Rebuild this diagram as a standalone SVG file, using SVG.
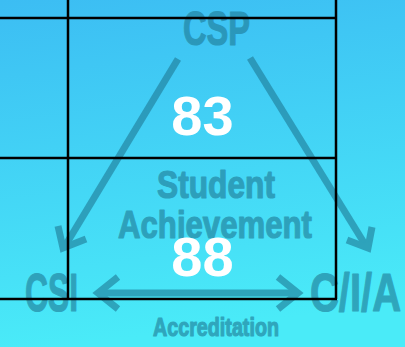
<svg xmlns="http://www.w3.org/2000/svg" width="405" height="347" viewBox="0 0 405 347">
<defs>
<linearGradient id="bg" x1="0" y1="0" x2="0.15" y2="1">
<stop offset="0" stop-color="#3cbdf3"/>
<stop offset="1" stop-color="#4aebf8"/>
</linearGradient>
<style>
.lbls{opacity:0.62}
.lbl{font-family:"Liberation Sans Narrow","Liberation Sans",sans-serif;font-weight:bold;fill:#1f7c98;stroke:#1f7c98;stroke-width:1.2;stroke-linejoin:round}
.num{font-family:"Liberation Sans",Arial,sans-serif;font-weight:bold;font-size:56px;fill:#ffffff;text-anchor:middle}
.arr{fill:none;stroke:#1f7c98;stroke-width:7}
.grid{stroke:#000;stroke-width:2.5;fill:none}
</style>
</defs>
<rect width="405" height="347" fill="url(#bg)"/>
<g id="connectors" opacity="0.62">
<g class="arr">
<line x1="178" y1="59" x2="65" y2="246"/>
<polyline points="58,226 63,248 86,239"/>
<line x1="250" y1="58" x2="366" y2="246"/>
<polyline points="347,240 368,248 372,227"/>
<line x1="100" y1="293" x2="297" y2="293"/>
<polyline points="118,277 98,293 118,309"/>
<polyline points="278,277 298,293 278,309"/>
</g>
</g>
<g class="lbls">
<g id="node-csp"><text class="lbl" x="183" y="45" font-size="48" textLength="67" lengthAdjust="spacingAndGlyphs">CSP</text></g>
<g id="node-student"><text class="lbl" x="157" y="198" font-size="38" textLength="118" lengthAdjust="spacingAndGlyphs">Student</text>
<text class="lbl" x="118" y="238" font-size="38" textLength="194" lengthAdjust="spacingAndGlyphs">Achievement</text></g>
<g id="node-csi"><text class="lbl" x="25" y="311" font-size="54" textLength="53" lengthAdjust="spacingAndGlyphs">CSI</text></g>
<g id="node-cia"><text class="lbl" x="310" y="311" font-size="54" textLength="91" lengthAdjust="spacingAndGlyphs">C/I/A</text></g>
<g id="node-accreditation"><text class="lbl" x="153" y="336" font-size="26" textLength="126" lengthAdjust="spacingAndGlyphs">Accreditation</text></g>
</g>
<g id="grid">
<line class="grid" x1="0" y1="18" x2="337" y2="18"/>
<line class="grid" x1="0" y1="158" x2="337" y2="158"/>
<line class="grid" x1="0" y1="299" x2="337" y2="299"/>
<line class="grid" x1="68" y1="0" x2="68" y2="299"/>
<line class="grid" x1="336" y1="0" x2="336" y2="299"/>
</g>
<g id="num-83"><text class="num" x="202.5" y="135">83</text></g>
<g id="num-88"><text class="num" x="202.5" y="276">88</text></g>
</svg>
